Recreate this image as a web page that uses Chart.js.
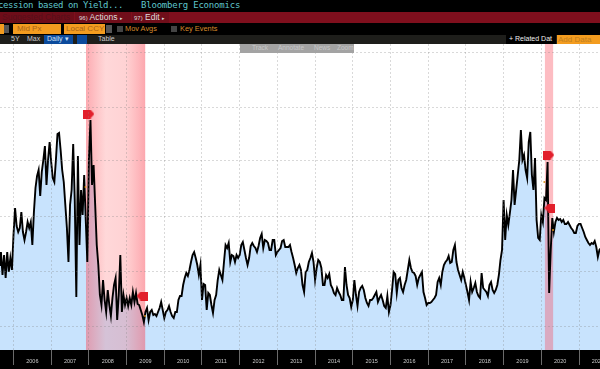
<!DOCTYPE html>
<html>
<head>
<meta charset="utf-8">
<script src="https://cdn.jsdelivr.net/npm/chart.js@4"></script>
<style>
  html, body { margin: 0; padding: 0; background: #000; width: 600px; height: 369px; overflow: hidden; }
  #wrap { position: relative; width: 600px; height: 369px; overflow: hidden; filter: blur(0.45px); background: #000; }
  #wrap div, #wrap span { position: absolute; white-space: nowrap; }
  #wrap div { font: 8px "Liberation Sans", sans-serif; }
  canvas { position: absolute; left: 0; top: 44px; }
  .mono { font: 9px/11px "DejaVu Sans Mono", monospace !important; color: #5fc6cc; top: 0; }
  .box { background: #f39c1f; color: #a8641a; top: 24px; height: 10px; line-height: 10px; font-size: 8px !important; padding-left: 4px; box-sizing: border-box; }
  .chk { background: #444; top: 26px; width: 6px; height: 6px; }
  .org { color: #d98a2a; top: 24px; line-height: 11px; font-size: 7.4px !important; }
  .tab { color: #ccc; top: 35px; line-height: 9px; font-size: 7px !important; }
  .act { color: #ddd; top: 12px; line-height: 11px; font-size: 8.5px !important; }
  .gb { color: #c8c8c8; top: 44px; line-height: 9px; font-size: 6.5px !important; }
</style>
</head>
<body>
<div id="wrap">
  <div style="left:0;top:12px;width:600px;height:11px;background:#7f0f1d"></div>
  <div style="left:0;top:35px;width:600px;height:9px;background:#1e1e1b"></div>

  <div class="mono" style="left:-2px;letter-spacing:-.42px">cession based on Yield...</div>
  <div class="mono" style="left:141px;letter-spacing:-.2px">Bloomberg Economics</div>

  <div style="left:0;top:12px;width:74px;height:11px;background:#6e0d19;color:#56101a;line-height:11px;padding-left:2px;box-sizing:border-box;font-size:8.5px">Suggested Charts</div>
  <div style="left:75px;top:12px;width:56px;height:11px;background:#700e1a"></div>
  <div style="left:132px;top:12px;width:37px;height:11px;background:#700e1a"></div>
  <div class="act" style="left:79px"><span style="position:static;font-size:6px">96)</span> Actions <span style="position:static;font-size:5px">▸</span></div>
  <div class="act" style="left:134px"><span style="position:static;font-size:6px">97)</span> Edit <span style="position:static;font-size:5px">▸</span></div>

  <div class="box" style="left:0;width:3px"></div>
  <div style="left:4px;top:25px;width:5px;height:8px;background:#555"></div>
  <div class="box" style="left:13px;width:48px">Mid Px</div>
  <div class="box" style="left:64px;width:41px;padding-left:2px">Local CCY</div>
  <div style="left:106px;top:25px;width:6px;height:8px;background:#555"></div>
  <div class="chk" style="left:117px"></div>
  <div class="org" style="left:125px">Mov Avgs</div>
  <div class="chk" style="left:171px"></div>
  <div class="org" style="left:180px">Key Events</div>

  <div class="tab" style="left:11px">5Y</div>
  <div class="tab" style="left:27px">Max</div>
  <div style="left:44px;top:35px;width:29px;height:9px;background:#0b4a9c"></div>
  <div class="tab" style="left:47px;color:#cfe0f5">Daily ▾</div>
  <div style="left:77px;top:35px;width:10px;height:9px;background:#0b4a9c"></div>
  <div class="tab" style="left:98px">Table</div>
  <div style="left:506px;top:35px;width:50px;height:9px;background:#000"></div>
  <div class="tab" style="left:509px;color:#eee">+ Related Dat</div>
  <div style="left:557px;top:35px;width:43px;height:9px;background:#f39c1f;color:#c07f20;line-height:9px;font-size:8px;padding-left:1px;box-sizing:border-box">Add Data</div>

  <canvas id="chart" width="600" height="325"></canvas>

  <div style="left:240px;top:44px;width:114px;height:9px;background:#a3a3a3;z-index:2"></div>
  <div class="gb" style="left:252px;z-index:3">Track</div>
  <div class="gb" style="left:278px;z-index:3">Annotate</div>
  <div class="gb" style="left:314px;z-index:3">News</div>
  <div class="gb" style="left:337px;z-index:3">Zoom</div>
</div>

<script>
// height above the bottom of the plot (no y labels visible)
const tail2005 = [82,95,72,92,69,95,75,89,77];
const y2006 = [112,139,121,115,119,135,115,107,115,125,119,125,102,135,159,171,177,151,175,187,201,162,187,205];
const y2007 = [185,169,165,187,213,214,197,177,165,142,119,85,142,157,203,147,50,191,102,157,132,172,127,85];
const y2008 = [187,227,162,182,142,102,82,52,42,67,47,35,57,42,31,49,62,69,27,52,92,35,52,42];
const y2009 = [49,41,49,42,55,45,54,43,42,37,32,25,35,39,27,35,37,32,33,31,35,39,45,37];
const y2010 = [29,35,37,41,35,31,29,35,35,47,51,51,62,69,74,71,77,85,92,95,89,82,72,82];
const y2011 = [47,63,62,37,54,52,42,34,47,52,67,77,72,67,85,102,99,104,85,92,91,85,92,89];
const y2012 = [92,102,105,97,89,82,89,101,104,101,99,95,101,109,113,99,107,106,104,97,97,107,107,92];
const y2013 = [95,97,99,106,107,100,100,100,102,95,89,82,74,79,82,77,62,55,75,77,85,89,94,85];
const y2014 = [67,79,87,85,79,62,62,72,69,73,62,59,54,52,59,55,52,47,47,80,62,52,49,40];
const y2015 = [47,67,52,41,55,59,61,57,49,44,41,47,47,49,52,55,45,49,52,47,41,39,51,35];
const y2016 = [42,57,75,73,54,67,69,59,55,62,67,77,87,79,75,74,71,62,69,72,75,55,49,42];
const y2017 = [44,44,45,47,49,52,65,69,62,75,82,85,87,91,84,85,97,102,85,77,72,67,75,69];
const y2018 = [62,55,47,65,55,59,64,55,51,49,74,59,57,55,51,62,65,57,54,57,62,72,87,97];
const y2019 = [147,107,132,122,134,147,177,142,157,172,187,217,187,192,177,169,205,215,172,157,189,127,109,107];
const y2020 = [132,125,149,147,185,54,97,129,115,125,129,127,128,125,127,123,123,125,122,119,117,114,114,121];
const y2021 = [123,123,119,115,110,107,104,102,104,103,106,100,90,97,99];

const yearStarts = [2006,2007,2008,2009,2010,2011,2012,2013,2014,2015,2016,2017,2018,2019,2020,2021];
const yearValues = [y2006,y2007,y2008,y2009,y2010,y2011,y2012,y2013,y2014,y2015,y2016,y2017,y2018,y2019,y2020,y2021];
const gridValues = [21,76,131,186,240,295];

const recessions = [[2007.92,2009.5],[2020.09,2020.32]];
const flagsRightX = [2008.0,2020.2];
const flagsRightY = [233,192];
const flagsLeftX = [2009.41,2020.23];
const flagsLeftY = [51,139];
const dotsX = [2007.91,2009.49,2020.08,2020.31];
const dotsY = [160,31,165,117];

const X_MIN = 2005.642, X_MAX = 2021.557, Y_MIN = -3, Y_MAX = 303;

const points = tail2005.map((v, i) => ({ x: 2005 + (15 + i) / 24, y: v }));
yearStarts.forEach((yr, k) => yearValues[k].forEach((v, i) => points.push({ x: yr + i / 24, y: v })));

function flag(dir) {
  const c = document.createElement('canvas'); c.width = 11; c.height = 9;
  const g = c.getContext('2d');
  g.fillStyle = '#e2202c';
  g.beginPath();
  if (dir > 0) { g.moveTo(0,0); g.lineTo(7,0); g.lineTo(11,4.5); g.lineTo(7,9); g.lineTo(0,9); }
  else { g.moveTo(11,0); g.lineTo(4,0); g.lineTo(0,4.5); g.lineTo(4,9); g.lineTo(11,9); }
  g.closePath(); g.fill();
  return c;
}

function bandFill(range, stops) {
  return ctx => {
    const { chart } = ctx;
    if (!chart.chartArea) return stops[0];
    const x = chart.scales.x;
    const g = chart.ctx.createLinearGradient(x.getPixelForValue(range[0]), 0, x.getPixelForValue(range[1]), 0);
    stops.forEach((s, i) => g.addColorStop(i / (stops.length - 1), s));
    return g;
  };
}

function bandData(range) { return [{ x: range[0], y: Y_MAX }, { x: range[1], y: Y_MAX }]; }

const plotBackground = {
  id: 'plotBackground',
  beforeDraw(chart) {
    const { ctx, chartArea: a } = chart;
    ctx.save();
    ctx.fillStyle = '#fff';
    ctx.fillRect(a.left, a.top, a.width, a.height);
    ctx.restore();
  }
};

new Chart(document.getElementById('chart'), {
  type: 'line',
  plugins: [plotBackground],
  data: { datasets: [
    { data: points, order: 5, borderWidth: 0, pointRadius: 0, fill: { value: Y_MIN }, backgroundColor: '#c8e3fd' },
    { data: bandData(recessions[0]), order: 4, borderWidth: 0, pointRadius: 0, fill: { value: Y_MIN },
      backgroundColor: bandFill(recessions[0], ['rgba(250,70,85,.46)','rgba(255,90,95,.24)','rgba(255,90,95,.27)','rgba(250,70,85,.48)']) },
    { data: bandData(recessions[1]), order: 4, borderWidth: 0, pointRadius: 0, fill: { value: Y_MIN },
      backgroundColor: 'rgba(250,70,85,.36)' },
    { data: points, order: 3, borderColor: '#000', borderWidth: 1.9, pointRadius: 0, tension: 0, fill: false },
    { data: dotsX.map((x, i) => ({ x, y: dotsY[i] })), order: 2, showLine: false, pointRadius: 1, pointBackgroundColor: '#d8921f', pointBorderWidth: 0 },
    { data: flagsRightX.map((x, i) => ({ x, y: flagsRightY[i] })), order: 1, showLine: false, pointStyle: flag(1) },
    { data: flagsLeftX.map((x, i) => ({ x, y: flagsLeftY[i] })), order: 1, showLine: false, pointStyle: flag(-1) }
  ] },
  options: {
    responsive: false,
    animation: false,
    parsing: false,
    normalized: true,
    layout: { padding: 0, autoPadding: false },
    plugins: { legend: { display: false }, tooltip: { enabled: false } },
    scales: {
      x: {
        type: 'linear', min: X_MIN, max: X_MAX,
        afterBuildTicks: s => { s.ticks = yearStarts.map(value => ({ value })); },
        afterFit: s => { s.height = 19; s.paddingLeft = 0; s.paddingRight = 0; },
        border: { display: false, dash: [2, 2] },
        grid: { z: 1, color: 'rgba(130,130,130,.3)', tickColor: '#6a6a6a', tickLength: 15 },
        ticks: { autoSkip: false, maxRotation: 0, minRotation: 0, padding: -7, labelOffset: 18.85, color: '#c9c9c9',
          font: { family: 'Liberation Sans', size: 5.5 }, callback: v => String(v) }
      },
      y: {
        min: Y_MIN, max: Y_MAX,
        afterBuildTicks: s => { s.ticks = gridValues.map(value => ({ value })); },
        afterFit: s => { s.width = 0; s.paddingTop = 0; s.paddingBottom = 0; },
        border: { display: false, dash: [2, 2] },
        grid: { z: 1, color: 'rgba(130,130,130,.3)', drawTicks: false },
        ticks: { display: false }
      }
    }
  }
});
</script>
</body>
</html>
